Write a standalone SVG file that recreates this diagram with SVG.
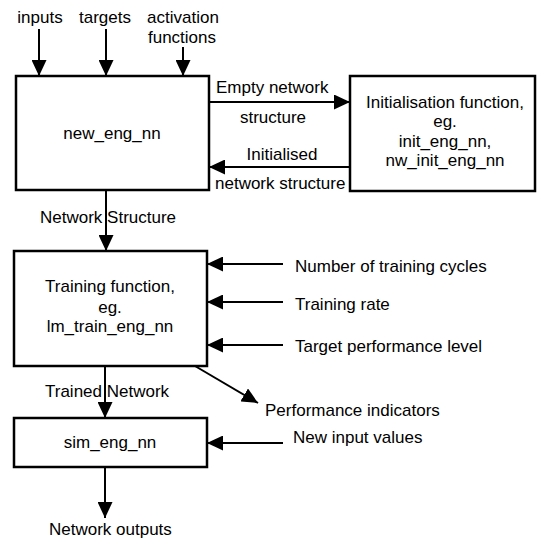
<svg xmlns="http://www.w3.org/2000/svg" width="537" height="540" viewBox="0 0 537 540">
<style>
text{font-family:"Liberation Sans",Arial,sans-serif;font-size:17px;fill:#000}
.c{text-anchor:middle}
.box{fill:#fff;stroke:#000;stroke-width:2.5}
.ln{stroke:#000;stroke-width:2;fill:none;marker-end:url(#ah)}
</style>
<defs>
<marker id="ah" markerUnits="userSpaceOnUse" markerWidth="16" markerHeight="15" refX="16" refY="7.5" orient="auto" viewBox="0 0 16 15">
<path d="M0,0 L16,7.5 L0,15 z" fill="#000"/>
</marker>
</defs>
<g id="connectors">
<line class="ln" x1="39" y1="29" x2="39" y2="76"/>
<line class="ln" x1="106" y1="29" x2="106" y2="76"/>
<line class="ln" x1="183" y1="47" x2="183" y2="76"/>
<line class="ln" x1="209" y1="102" x2="350" y2="102"/>
<line class="ln" x1="350" y1="167" x2="209" y2="167"/>
<line class="ln" x1="106" y1="190" x2="106" y2="251"/>
<line class="ln" x1="283" y1="264" x2="207" y2="264"/>
<line class="ln" x1="283" y1="302" x2="207" y2="302"/>
<line class="ln" x1="283" y1="345" x2="207" y2="345"/>
<line class="ln" x1="195" y1="366" x2="258" y2="403"/>
<line class="ln" x1="105" y1="366" x2="105" y2="418"/>
<line class="ln" x1="283" y1="443" x2="207" y2="443"/>
<line class="ln" x1="105" y1="467" x2="105" y2="518"/>
<text class="c" x="40" y="23">inputs</text>
<text class="c" x="105" y="23">targets</text>
<text class="c" x="183" y="23">activation</text>
<text class="c" x="182" y="43">functions</text>
<text x="216" y="93">Empty network</text>
<text class="c" x="273" y="123">structure</text>
<text class="c" x="282" y="160">Initialised</text>
<text x="215" y="189">network structure</text>
<text x="40" y="223">Network Structure</text>
<text x="295" y="272">Number of training cycles</text>
<text x="295" y="310">Training rate</text>
<text x="295" y="352">Target performance level</text>
<text x="265" y="416">Performance indicators</text>
<text x="45" y="397">Trained Network</text>
<text x="293" y="443">New input values</text>
<text x="49" y="535">Network outputs</text>
</g>
<g id="new_eng_nn">
<rect class="box" x="16" y="76" width="193" height="114"/>
<text class="c" x="112" y="139">new_eng_nn</text>
</g>
<g id="init_fn">
<rect class="box" x="350" y="76" width="185" height="115"/>
<text class="c" x="445" y="108">Initialisation function,</text>
<text class="c" x="445" y="127">eg.</text>
<text class="c" x="445" y="147">init_eng_nn,</text>
<text class="c" x="445" y="166">nw_init_eng_nn</text>
</g>
<g id="train_fn">
<rect class="box" x="14" y="251" width="193" height="115"/>
<text class="c" x="110" y="292">Training function,</text>
<text class="c" x="110" y="313">eg.</text>
<text class="c" x="110" y="332">lm_train_eng_nn</text>
</g>
<g id="sim_eng_nn">
<rect class="box" x="14" y="418" width="193" height="49"/>
<text class="c" x="110" y="448">sim_eng_nn</text>
</g>
</svg>
